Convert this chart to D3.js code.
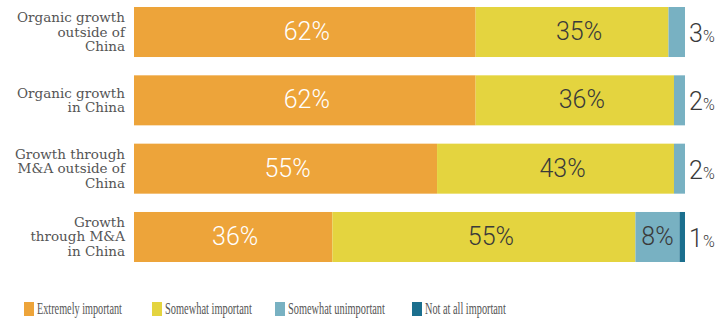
<!DOCTYPE html>
<html>
<head>
<meta charset="utf-8">
<script src="https://cdn.jsdelivr.net/npm/d3@7"></script>
<style>
  body { margin: 0; background: #fff; }
  svg { display: block; }
</style>
</head>
<body>
<div id="chart"></div>
<script>
// categories (each label split into its lines)
const categories = [
  ["Organic growth", "outside of", "China"],
  ["Organic growth", "in China"],
  ["Growth through", "M&A outside of", "China"],
  ["Growth", "through M&A", "in China"]
];
const seriesNames = ["Extremely important", "Somewhat important", "Somewhat unimportant", "Not at all important"];
const seriesColors = ["#eda43a", "#e4d43f", "#78b1c2", "#1b6f8e"];
// values per row, in series order
const extremely = [62, 62, 55, 36];
const somewhat = [35, 36, 43, 55];
const unimportant = [3, 2, 2, 8];
const notAtAll = [0, 0, 0, 1];

const W = 727, H = 318;
const svg = d3.select("#chart").append("svg")
  .attr("width", W).attr("height", H);

const x = d3.scaleLinear().domain([0, 100]).range([134, 685]);
const y = d3.scaleBand().domain(d3.range(categories.length))
  .range([7, 262]).paddingInner(0.268).paddingOuter(0);

const rows = categories.map((c, i) => ({
  i, vals: [extremely[i], somewhat[i], unimportant[i], notAtAll[i]]
}));

const stack = d3.stack().keys([0, 1, 2, 3]).value((d, k) => d.vals[k]);
const layers = stack(rows);

layers.forEach((layer, k) => {
  svg.append("g").selectAll("rect")
    .data(layer)
    .enter().append("rect")
    .attr("x", d => x(d[0]))
    .attr("y", (d, i) => y(i))
    .attr("width", d => x(d[1]) - x(d[0]))
    .attr("height", y.bandwidth())
    .attr("fill", seriesColors[k]);
});

// labels inside the bars (big enough segments only)
const shift = [2, 7, 0, 0];
layers.forEach((layer, k) => {
  svg.append("g").selectAll("text")
    .data(layer.filter(d => (d[1] - d[0]) >= 5))
    .enter().append("text")
    .attr("x", d => (x(d[0]) + x(d[1])) / 2 + shift[k])
    .attr("y", d => y(d.data.i) + y.bandwidth() / 2 + 8)
    .attr("text-anchor", "middle")
    .style("font-family", "Roboto, sans-serif")
    .style("font-weight", 300)
    .style("font-size", "25px")
    .attr("fill", k === 0 ? "#fff" : "#3a3a3a")
    .text(d => (d[1] - d[0]) + "%");
});

// small value shown to the right of each bar
const lastSmall = rows.map(r => {
  const v = r.vals[3] > 0 ? r.vals[3] : r.vals[2];
  return { i: r.i, v };
});
const outer = svg.append("g").selectAll("text")
  .data(lastSmall)
  .enter().append("text")
  .attr("x", x(100) + 4)
  .attr("y", d => y(d.i) + y.bandwidth() / 2 + 10)
  .style("font-family", "Roboto, sans-serif")
  .style("font-weight", 300)
  .attr("fill", "#3a3a3a");
outer.append("tspan").style("font-size", "25px").text(d => d.v);
outer.append("tspan").style("font-size", "16px").text("%");

// category labels
const lineH = 14.5;
svg.append("g").selectAll("text")
  .data(categories)
  .enter().append("text")
  .attr("text-anchor", "end")
  .style("font-family", "'DejaVu Serif', serif")
  .style("font-size", "13.5px")
  .attr("fill", "#555")
  .each(function (lines, i) {
    const cy = y(i) + y.bandwidth() / 2;
    const top = cy - (lines.length - 1) * lineH / 2 + 4.5;
    d3.select(this).selectAll("tspan")
      .data(lines)
      .enter().append("tspan")
      .attr("x", 125)
      .attr("y", (l, j) => top + j * lineH)
      .text(l => l);
  });

// legend (serif squeezed horizontally to look condensed)
const legendX = [24, 152, 275, 412];
const legendW = [85, 87, 97, 81];
const legend = svg.append("g").selectAll("g")
  .data(seriesNames)
  .enter().append("g")
  .attr("transform", (d, i) => `translate(${legendX[i]},302)`);
legend.append("rect")
  .attr("width", 10).attr("height", 14)
  .attr("fill", (d, i) => seriesColors[i]);
legend.append("text")
  .attr("y", 12)
  .style("font-family", "'Liberation Serif', serif")
  .style("font-size", "16px")
  .attr("fill", "#555")
  .text(d => d)
  .each(function (d, i) {
    const sx = legendW[i] / this.getComputedTextLength();
    d3.select(this).attr("transform", `translate(13,0) scale(${sx},1)`);
  });
</script>
</body>
</html>
